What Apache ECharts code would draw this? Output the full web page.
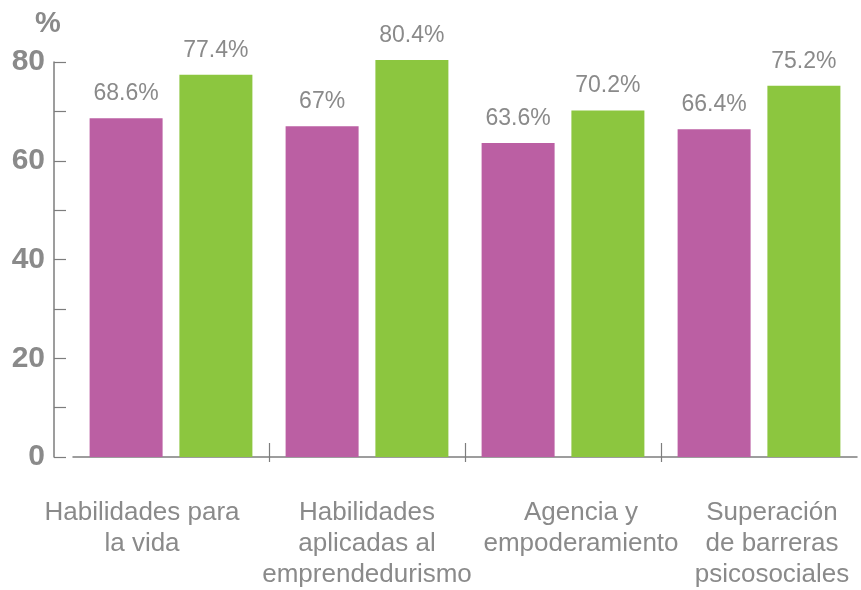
<!DOCTYPE html>
<html>
<head>
<meta charset="utf-8">
<script src="https://cdn.jsdelivr.net/npm/echarts@6/dist/echarts.min.js"></script>
<style>
  html, body { margin: 0; padding: 0; background: #fff; }
  #chart { width: 861px; height: 590px; }
</style>
</head>
<body>
<div id="chart"></div>
<script>
// categorias del eje x
var categorias = [
  'Habilidades para\nla vida',
  'Habilidades\naplicadas al\nemprendedurismo',
  'Agencia y\nempoderamiento',
  'Superación\nde barreras\npsicosociales'
];
var serieMorada = [68.6, 67, 63.6, 66.4];
var serieVerde = [77.4, 80.4, 70.2, 75.2];
var ticksY = [0, 20, 40, 60, 80];

var gris = '#8a8a8a';
var lineaEje = '#7d7d7d';

// desplazamiento horizontal de cada etiqueta (como en el original)
var corrimiento = [-29, 0, 18, 13];

// separadores entre grupos (solo los interiores)
var separadores = categorias.slice(1).map(function (c, i) { return i + 1; });

function ejeSeparador(inside, largo) {
  return {
    type: 'value',
    min: 0,
    max: categorias.length,
    position: 'bottom',
    axisLine: { show: false },
    splitLine: { show: false },
    axisLabel: { show: false },
    axisTick: {
      show: true, inside: inside, length: largo,
      customValues: separadores,
      lineStyle: { color: lineaEje, width: 1.2 }
    }
  };
}

var myChart = echarts.init(document.getElementById('chart'));

var option = {
  animation: false,
  grid: { left: 73, right: 4, top: 62, bottom: 133 },
  xAxis: [{
    type: 'category',
    data: categorias.map(function (c, i) {
      var d = corrimiento[i];
      return {
        value: c,
        textStyle: { padding: d < 0 ? [0, -2 * d, 0, 0] : [0, 0, 0, 2 * d] }
      };
    }),
    axisLine: { lineStyle: { color: lineaEje, width: 1.5 } },
    axisTick: { show: false },
    axisLabel: {
      interval: 0, margin: 40, color: gris,
      fontFamily: 'Liberation Sans', fontSize: 26, lineHeight: 31
    }
  }, ejeSeparador(true, 14), ejeSeparador(false, 5)],
  yAxis: {
    type: 'value',
    min: ticksY[0],
    max: ticksY[ticksY.length - 1],
    interval: 20,
    offset: 19,
    name: '%',
    nameLocation: 'end',
    nameGap: 38,
    nameTextStyle: {
      color: gris, fontFamily: 'Liberation Sans', fontWeight: 'bold',
      fontSize: 29, align: 'center', verticalAlign: 'middle', padding: [0, 12, 0, 0]
    },
    axisLine: { show: true, onZero: false, lineStyle: { color: lineaEje, width: 1.5 } },
    axisTick: { show: true, inside: true, length: 12, lineStyle: { color: lineaEje, width: 1.2 } },
    minorTick: { show: true, splitNumber: 2, length: 12, lineStyle: { color: lineaEje, width: 1.2 } },
    splitLine: { show: false },
    axisLabel: {
      margin: 9, color: gris, fontFamily: 'Liberation Sans',
      fontWeight: 'bold', fontSize: 30
    }
  },
  series: [
    {
      name: 'morado',
      type: 'bar',
      data: serieMorada,
      barWidth: 73,
      barGap: '23%',
      clip: false,
      itemStyle: { color: '#bb5fa3' },
      label: {
        show: true, position: 'top', distance: 13, formatter: '{c}%',
        color: gris, fontFamily: 'Liberation Sans', fontSize: 23
      }
    },
    {
      name: 'verde',
      type: 'bar',
      data: serieVerde,
      barWidth: 73,
      barGap: '23%',
      clip: false,
      itemStyle: { color: '#8cc63f' },
      label: {
        show: true, position: 'top', distance: 13, formatter: '{c}%',
        color: gris, fontFamily: 'Liberation Sans', fontSize: 23
      }
    }
  ]
};

myChart.setOption(option);
</script>
</body>
</html>
